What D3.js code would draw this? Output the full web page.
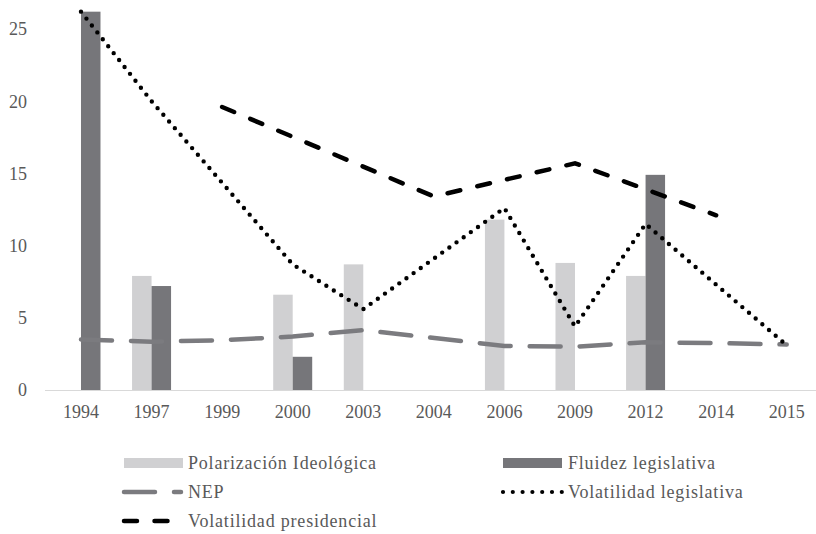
<!DOCTYPE html>
<html>
<head>
<meta charset="utf-8">
<script src="https://cdn.jsdelivr.net/npm/d3@7"></script>
<style>
  html, body { margin: 0; padding: 0; background: #fff; }
  svg { display: block; }
</style>
</head>
<body>
<svg id="chart" width="816" height="534"></svg>
<script>
// ---- data ----
const years = ["1994","1997","1999","2000","2003","2004","2006","2009","2012","2014","2015"];
const polarizacion = [null, 7.9, null, 6.6, 8.7, null, 11.8, 8.8, 7.9, null, null];
const fluidez      = [26.2, 7.2, null, 2.3, null, null, null, null, 14.9, null, null];
const nep          = [3.5, 3.35, 3.45, 3.7, 4.15, null, 3.05, 3.0, 3.3, 3.25, 3.15];
const volLegislativa = [26.2, 20.0, null, 8.7, 5.6, null, 12.6, 4.4, 11.5, null, 3.1];
const volPresidencial = [null, null, 19.6, null, null, 13.4, null, 15.7, null, 12.1, null];
const yTicks = [0, 5, 10, 15, 20, 25];
const legendLabels = ["Polarización Ideológica", "Fluidez legislativa", "NEP", "Volatilidad legislativa", "Volatilidad presidencial"];

// ---- chart ----
const FONT = "'Liberation Serif'";
const svg = d3.select("#chart");
const x = d3.scaleBand().domain(years).range([45.7, 822]).padding(0);
const y = d3.scaleLinear().domain([0, 25]).range([390, 29]);
const cx = d => x(d) + x.bandwidth() / 2;
const inner = d3.scaleBand().domain(["pol", "flu"]).range([-19.5, 19.5]);

const colLight = "#d0d0d2", colDark = "#76767a", colNep = "#7b7b7f", colText = "#595959";

// axis baseline
svg.append("line").attr("x1", 45).attr("x2", 816).attr("y1", y(0) + 0.5).attr("y2", y(0) + 0.5)
  .attr("stroke", "#d9d9d9").attr("stroke-width", 1.2);

// y labels
svg.append("g").selectAll("text").data(yTicks).join("text")
  .style("font-family", FONT)
  .attr("x", 27).attr("y", d => y(d)).attr("dy", "0.35em").attr("fill", colText)
  .attr("text-anchor", "end").attr("font-size", 18).text(d => d);

// x labels
svg.append("g").selectAll("text").data(years).join("text")
  .style("font-family", FONT)
  .attr("x", d => cx(d)).attr("y", 418).attr("fill", colText)
  .attr("text-anchor", "middle").attr("font-size", 18).text(d => d);

// bars
const barData = [];
years.forEach((yr, i) => {
  if (polarizacion[i] != null) barData.push({ yr, key: "pol", v: polarizacion[i] });
  if (fluidez[i] != null) barData.push({ yr, key: "flu", v: fluidez[i] });
});
svg.append("g").selectAll("rect").data(barData).join("rect")
  .attr("x", d => cx(d.yr) + inner(d.key))
  .attr("width", inner.bandwidth())
  .attr("y", d => y(d.v))
  .attr("height", d => y(0) - y(d.v))
  .attr("fill", d => d.key === "pol" ? colLight : colDark);

// lines (gaps connected)
function seriesPts(arr) {
  return years.map((yr, i) => ({ yr, v: arr[i] })).filter(d => d.v != null);
}
const line = d3.line().x(d => cx(d.yr)).y(d => y(d.v));

svg.append("path").datum(seriesPts(nep)).attr("d", line)
  .attr("fill", "none").attr("stroke", colNep).attr("stroke-width", 4.5)
  .attr("stroke-linecap", "round").attr("stroke-dasharray", "31 19");

svg.append("path").datum(seriesPts(volPresidencial)).attr("d", line)
  .attr("fill", "none").attr("stroke", "#000").attr("stroke-width", 4.5)
  .attr("stroke-linecap", "round").attr("stroke-dasharray", "13 17.5");

svg.append("path").datum(seriesPts(volLegislativa)).attr("d", line)
  .attr("fill", "none").attr("stroke", "#000").attr("stroke-width", 4.4)
  .attr("stroke-linecap", "round").attr("stroke-dasharray", "0 8.8");

// legend
const lg = svg.append("g");
const fs = 18, ls = 0.8;
function ltext(xp, yp, s) {
  lg.append("text").style("font-family", FONT).attr("x", xp).attr("y", yp).attr("font-size", fs)
    .attr("letter-spacing", ls).attr("fill", colText).text(s);
}
// row 1
lg.append("rect").attr("x", 124).attr("y", 458).attr("width", 59).attr("height", 10).attr("fill", colLight);
ltext(188, 469, legendLabels[0]);
lg.append("rect").attr("x", 503).attr("y", 458).attr("width", 59).attr("height", 10).attr("fill", colDark);
ltext(568, 469, legendLabels[1]);
// row 2
lg.append("line").attr("x1", 124).attr("x2", 181).attr("y1", 492).attr("y2", 492)
  .attr("stroke", colNep).attr("stroke-width", 4.5).attr("stroke-linecap", "round").attr("stroke-dasharray", "31 19");
ltext(188, 498, legendLabels[2]);
lg.append("line").attr("x1", 503).attr("x2", 562).attr("y1", 492).attr("y2", 492)
  .attr("stroke", "#000").attr("stroke-width", 4.2).attr("stroke-linecap", "round").attr("stroke-dasharray", "0 9.8");
ltext(568, 498, legendLabels[3]);
// row 3
lg.append("line").attr("x1", 124).attr("x2", 181).attr("y1", 521).attr("y2", 521)
  .attr("stroke", "#000").attr("stroke-width", 4.5).attr("stroke-linecap", "round").attr("stroke-dasharray", "13 17.5");
ltext(188, 527, legendLabels[4]);
</script>
</body>
</html>
